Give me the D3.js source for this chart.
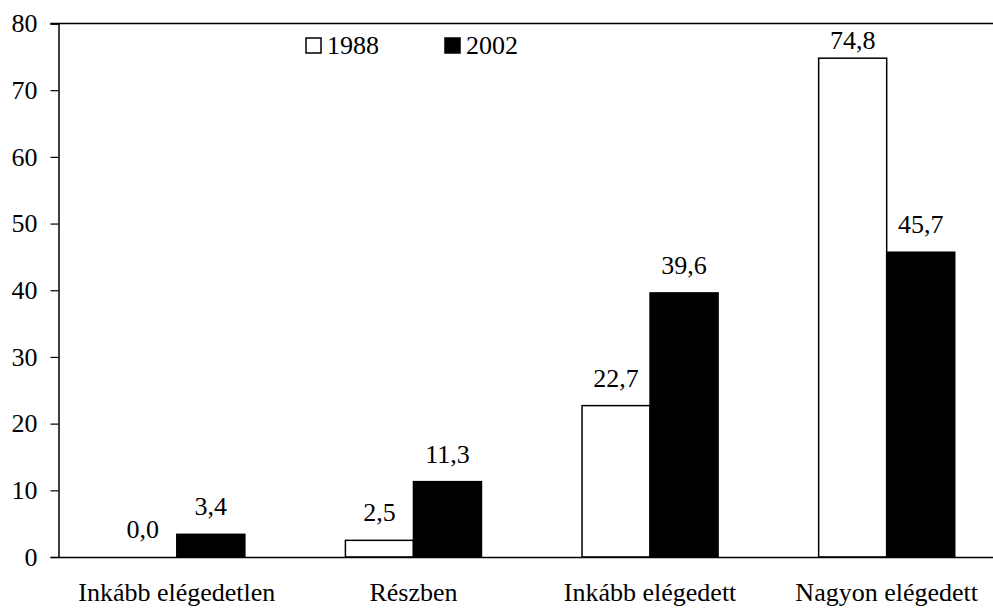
<!DOCTYPE html>
<html>
<head>
<meta charset="utf-8">
<script src="https://d3js.org/d3.v7.min.js"></script>
<style>
  body { margin: 0; background: #fff; }
  svg text { font-family: "Liberation Serif", "Times New Roman", serif; fill: #000; }
</style>
</head>
<body>
<div id="chart"></div>
<script>
// data
const categories = ["Inkább elégedetlen", "Részben", "Inkább elégedett", "Nagyon elégedett"];
const years = ["1988", "2002"];
const values1988 = [0.0, 2.5, 22.7, 74.8];
const values2002 = [3.4, 11.3, 39.6, 45.7];
const yTicks = [0, 10, 20, 30, 40, 50, 60, 70, 80];

const width = 993, height = 608;
// plot runs a bit past the right edge of the window (clipped in the original)
const margin = {top: 23.5, bottom: 51, left: 58.5, right: -12};
const fontSize = 26;

const data = categories.map((c, i) => ({cat: c, vals: [values1988[i], values2002[i]]}));

const svg = d3.select("#chart")
  .append("svg")
  .attr("width", width)
  .attr("height", height);

const x0 = d3.scaleBand()
  .domain(categories)
  .range([margin.left, width - margin.right])
  .padding(0);

// two bars take ~57% of each group band
const groupW = x0.bandwidth() * 0.575;
const x1 = d3.scaleBand()
  .domain(years)
  .range([-groupW / 2, groupW / 2]);

const y = d3.scaleLinear()
  .domain([0, 80])
  .range([height - margin.bottom, margin.top]);

const fills = {"1988": "#fff", "2002": "#000"};

// bars
const groups = svg.append("g")
  .selectAll("g")
  .data(data)
  .join("g")
  .attr("transform", d => `translate(${x0(d.cat) + x0.bandwidth() / 2},0)`);

groups.selectAll("rect")
  .data(d => d.vals.map((v, k) => ({year: years[k], v})))
  .join("rect")
  .attr("x", d => x1(d.year))
  .attr("y", d => y(d.v))
  .attr("width", x1.bandwidth())
  .attr("height", d => y(0) - y(d.v))
  .attr("fill", d => fills[d.year])
  .attr("stroke", "#000")
  .attr("stroke-width", 1.5);

// value labels (kept inside the plot area at the top)
groups.selectAll("text")
  .data(d => d.vals.map((v, k) => ({year: years[k], v})))
  .join("text")
  .attr("x", d => x1(d.year) + x1.bandwidth() / 2)
  .attr("y", d => Math.max(y(d.v) - 19, y(80) + 25))
  .attr("text-anchor", "middle")
  .style("font-size", fontSize + "px")
  .text(d => d3.format(".1f")(d.v).replace(".", ","));

// y axis
const yAxis = svg.append("g")
  .attr("transform", `translate(${margin.left},0)`)
  .call(d3.axisLeft(y).tickValues(yTicks).tickSize(8).tickPadding(13));
yAxis.attr("font-family", null);
yAxis.select(".domain").attr("stroke", "#000").attr("stroke-width", 1.5);
yAxis.selectAll(".tick line").attr("stroke", "#000").attr("stroke-width", 1.2);
yAxis.selectAll(".tick text")
  .style("font-size", fontSize + "px")
  .attr("fill", "#000");

// top border line at 80
svg.append("line")
  .attr("x1", margin.left - 8)
  .attr("x2", width)
  .attr("y1", y(80))
  .attr("y2", y(80))
  .attr("stroke", "#000")
  .attr("stroke-width", 1.5);

// x axis
const xAxis = svg.append("g")
  .attr("transform", `translate(0,${y(0)})`)
  .call(d3.axisBottom(x0).tickSize(0).tickPadding(0));
xAxis.attr("font-family", null);
xAxis.select(".domain").attr("stroke", "#000").attr("stroke-width", 1.5);
xAxis.selectAll(".tick text")
  .attr("dy", 0)
  .attr("y", 44)
  .style("font-size", fontSize + "px")
  .attr("fill", "#000");

// legend
const legendX = [306, 445];
const legend = svg.append("g")
  .selectAll("g")
  .data(years)
  .join("g")
  .attr("transform", (d, i) => `translate(${legendX[i]},38)`);
legend.append("rect")
  .attr("width", 15)
  .attr("height", 15)
  .attr("fill", d => fills[d])
  .attr("stroke", "#000")
  .attr("stroke-width", 1.5);
legend.append("text")
  .attr("x", 21)
  .attr("y", 16)
  .style("font-size", fontSize + "px")
  .text(d => d);
</script>
</body>
</html>
